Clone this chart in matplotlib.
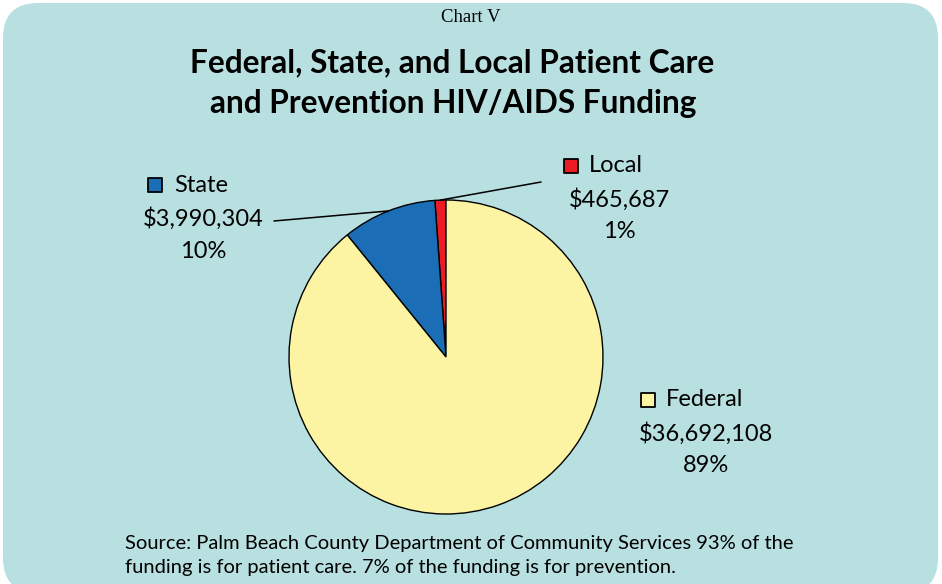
import matplotlib.pyplot as plt
import numpy as np
from matplotlib.patches import FancyBboxPatch, ConnectionPatch

# Data
sources = ['Local', 'State', 'Federal']
amounts = [465687, 3990304, 36692108]
pct_labels = ['1%', '10%', '89%']
colors = ['#ed1c24', '#1b6db5', '#fcf4a3']

title_lines = ['Federal, State, and Local Patient Care',
               'and Prevention HIV/AIDS Funding']
note_lines = ['Source: Palm Beach County Department of Community Services 93% of the',
              'funding is for patient care. 7% of the funding is for prevention.']

W, H = 942, 584
fig = plt.figure(figsize=(W / 100, H / 100), dpi=100)
fig.patch.set_facecolor('white')

# background panel, in pixel coords
bg = fig.add_axes([0, 0, 1, 1])
bg.set_xlim(0, W)
bg.set_ylim(H, 0)
bg.axis('off')
bg.add_patch(FancyBboxPatch((3, 3), 935, 590, boxstyle='round,pad=0,rounding_size=35',
                            fc='#b9e0e0', ec='none'))

bg.text(471, 18, 'Chart V', family='Liberation Serif', fontsize=13.5, ha='center', va='center')
bg.text(452, 63, title_lines[0], family='Lato', weight='bold', fontsize=22.8, ha='center', va='center')
bg.text(453, 103, title_lines[1], family='Lato', weight='bold', fontsize=22.8, ha='center', va='center')

# pie
cx, cy, r = 446, 357, 157
ax = fig.add_axes([(cx - r) / W, (H - cy - r) / H, 2 * r / W, 2 * r / H])
wedges, _ = ax.pie(amounts, colors=colors, startangle=90, counterclock=True,
                   wedgeprops=dict(edgecolor='black', linewidth=1))
ax.set_xlim(-1, 1)
ax.set_ylim(-1, 1)

# label layout: (square x, name x, block centre x, first row y)
lab_layout = {'Local': (571, 589, 619, 166),
              'State': (155, 174, 203, 185),
              'Federal': (648, 666, 706, 400)}
leader_start = {'Local': (541, 182), 'State': (274, 221)}

for i, name in enumerate(sources):
    sx, nx, mx, y0 = lab_layout[name]
    bg.scatter([sx], [y0], s=115, marker='s', color=colors[i], edgecolors='black', linewidths=1.3)
    bg.text(nx, y0, name, family='Lato', fontsize=17, ha='left', va='center')
    bg.text(mx, y0 + 34, '${:,}'.format(amounts[i]), family='Lato', fontsize=17, ha='center', va='center')
    bg.text(mx, y0 + 66, pct_labels[i], family='Lato', fontsize=17, ha='center', va='center')
    if name in leader_start:
        w = wedges[i]
        ang = np.deg2rad((w.theta1 + w.theta2) / 2)
        con = ConnectionPatch(xyA=leader_start[name], coordsA=bg.transData,
                              xyB=(np.cos(ang), np.sin(ang)), coordsB=ax.transData,
                              color='black', linewidth=1.1)
        fig.add_artist(con)

bg.text(125, 543, note_lines[0], family='Lato', fontsize=14.5, ha='left', va='center')
bg.text(125, 567, note_lines[1], family='Lato', fontsize=14.5, ha='left', va='center')

fig.savefig('out.png', dpi=100)
